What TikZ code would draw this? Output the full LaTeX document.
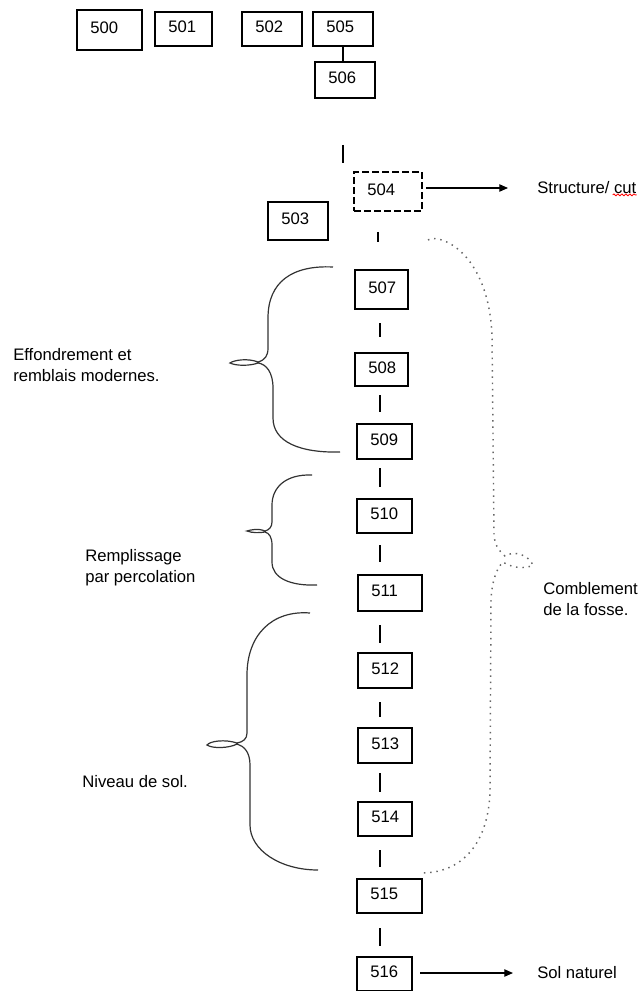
\documentclass[tikz,border=0pt]{standalone}
\usepackage{fontspec}
\setmainfont{Liberation Sans}
\usetikzlibrary{arrows.meta,fit,decorations.pathmorphing,calc}
\newcommand\bx[6][box]{%
  \node[#1, fit={(#3,#4) (#5,#6)}] (b#2) {};
  \node[num] (n#2) at ($(b#2.west)+(13,-2)$) {#2};}
\newcommand\sg[5][sp]{%
  \draw[seg] ($(#2.south -| #1)+(0,#4)$) -- ($(#3.north -| #1)+(0,-#5)$);}
\begin{document}
\begin{tikzpicture}[x=0.75pt,y=-0.75pt,
  box/.style={draw=black, line width=1.85pt, inner sep=0pt, outer sep=0pt},
  dbox/.style={box, dash pattern=on 5pt off 2.5pt},
  num/.style={inner sep=0pt, anchor=west, font=\fontsize{12.5}{15}\selectfont},
  lbl/.style={inner sep=0pt, anchor=west, align=left, font=\fontsize{12.5}{16}\selectfont},
  seg/.style={line width=1.5pt},
  arr/.style={line width=0.9pt, -{Triangle[length=6.5pt,width=5.5pt]}},
  brc/.style={line width=0.9pt, draw=black!80},
  dotb/.style={line width=1.1pt, draw=black!60, dash pattern=on 1.1pt off 3.6pt},
]
\useasboundingbox (0,0) rectangle (643,991);
\coordinate (sp) at (379.5,0);
\coordinate (s2) at (343,0);
\coordinate (s3) at (378,0);
% boxes
\bx{500}{77}{10}{142}{50}
\bx{501}{155}{12}{212}{46}
\bx{502}{242}{12}{302}{46}
\bx{505}{313}{12}{373}{46}
\bx{506}{315}{62}{375}{98}
\bx[dbox]{504}{354}{172}{422}{211}
\bx{503}{268}{202}{328}{240}
\bx{507}{355}{270}{408}{309}
\bx{508}{355}{353}{408}{386}
\bx{509}{357}{424}{412}{459}
\bx{510}{357}{499}{412}{533}
\bx{511}{358}{575}{422}{611}
\bx{512}{358}{653}{412}{688}
\bx{513}{358}{728}{412}{763}
\bx{514}{358}{802}{412}{836}
\bx{515}{357}{879}{422}{913}
\bx{516}{357}{957}{412}{991}
% connectors
\draw[line width=1.2pt] (b505.south) -- (b505.south |- b506.north);
\sg[s2]{b506}{b504}{47}{9}
\sg[s3]{b504}{b507}{21}{28}
\sg{b507}{b508}{14}{16}
\sg{b508}{b509}{9}{12}
\sg{b509}{b510}{9}{12}
\sg{b510}{b511}{12}{13}
\sg{b511}{b512}{14}{10}
\sg{b512}{b513}{14}{11}
\sg{b513}{b514}{10}{10}
\sg{b514}{b515}{14}{12}
\sg{b515}{b516}{15}{11}
% labels
\node[lbl] (teff) at (13,365) {Effondrement et\\remblais modernes.};
\node[lbl] (trem) at (85,567.5) {Remplissage\\par percolation};
\node[lbl] (tniv) at (82,782) {Niveau de sol.};
\node[lbl] (tcom) at (543,599) {Comblement\\de la fosse.};
\node[lbl] (tcut) at (537,188) {Structure/ cut};
\node[lbl] (tsol) at (537,973) {Sol naturel};
% arrows
\draw[arr] ($(b504.east |- tcut.west)+(4,0)$) -- ($(tcut.west)+(-29,0)$);
\draw[arr] ($(b516.east |- tsol.west)+(8,0)$) -- ($(tsol.west)+(-24,0)$);
\draw[red, line width=0.6pt, decorate, decoration={snake, amplitude=0.7pt, segment length=3pt}]
  ($(tcut.south east)+(-24,0.5)$) -- ($(tcut.south east)+(0,0.5)$);
% braces
\draw[brc] (333,267) .. controls (292,265) and (268,282) .. (268,318) -- (268,348)
  .. controls (268,356) and (265,360) .. (258,362)
  .. controls (248,358) and (234,360) .. (230,363)
  .. controls (236,366) and (250,366) .. (258,363)
  .. controls (266,364) and (273,372) .. (273,388) -- (273,418)
  .. controls (273,442) and (300,453) .. (340,452);
\draw[brc] (312,475) .. controls (285,474) and (272,488) .. (272,505) -- (272,522)
  .. controls (272,527) and (269,530) .. (265,531)
  .. controls (258,528) and (250,530) .. (247,531)
  .. controls (252,533) and (260,533) .. (265,532)
  .. controls (269,533) and (272,537) .. (272,545) -- (272,562)
  .. controls (272,578) and (290,586) .. (317,585);
\draw[brc] (310,613) .. controls (272,610) and (247,635) .. (247,675) -- (247,733)
  .. controls (247,739) and (243,742) .. (237,743)
  .. controls (225,739) and (210,741) .. (207,745)
  .. controls (213,749) and (230,748) .. (237,744)
  .. controls (244,746) and (250,752) .. (250,765) -- (250,825)
  .. controls (250,850) and (280,870) .. (318,870);
\draw[dotb] (428,240) .. controls (438,233) and (488,250) .. (492,335) -- (494,535)
  .. controls (495,545) and (498,550) .. (505,556)
  .. controls (515,550) and (528,555) .. (533,565)
  .. controls (524,570) and (510,567) .. (503,562)
  .. controls (497,568) and (492,580) .. (491,600) -- (490,790)
  .. controls (489,840) and (465,872) .. (423,873);
\end{tikzpicture}
\end{document}
